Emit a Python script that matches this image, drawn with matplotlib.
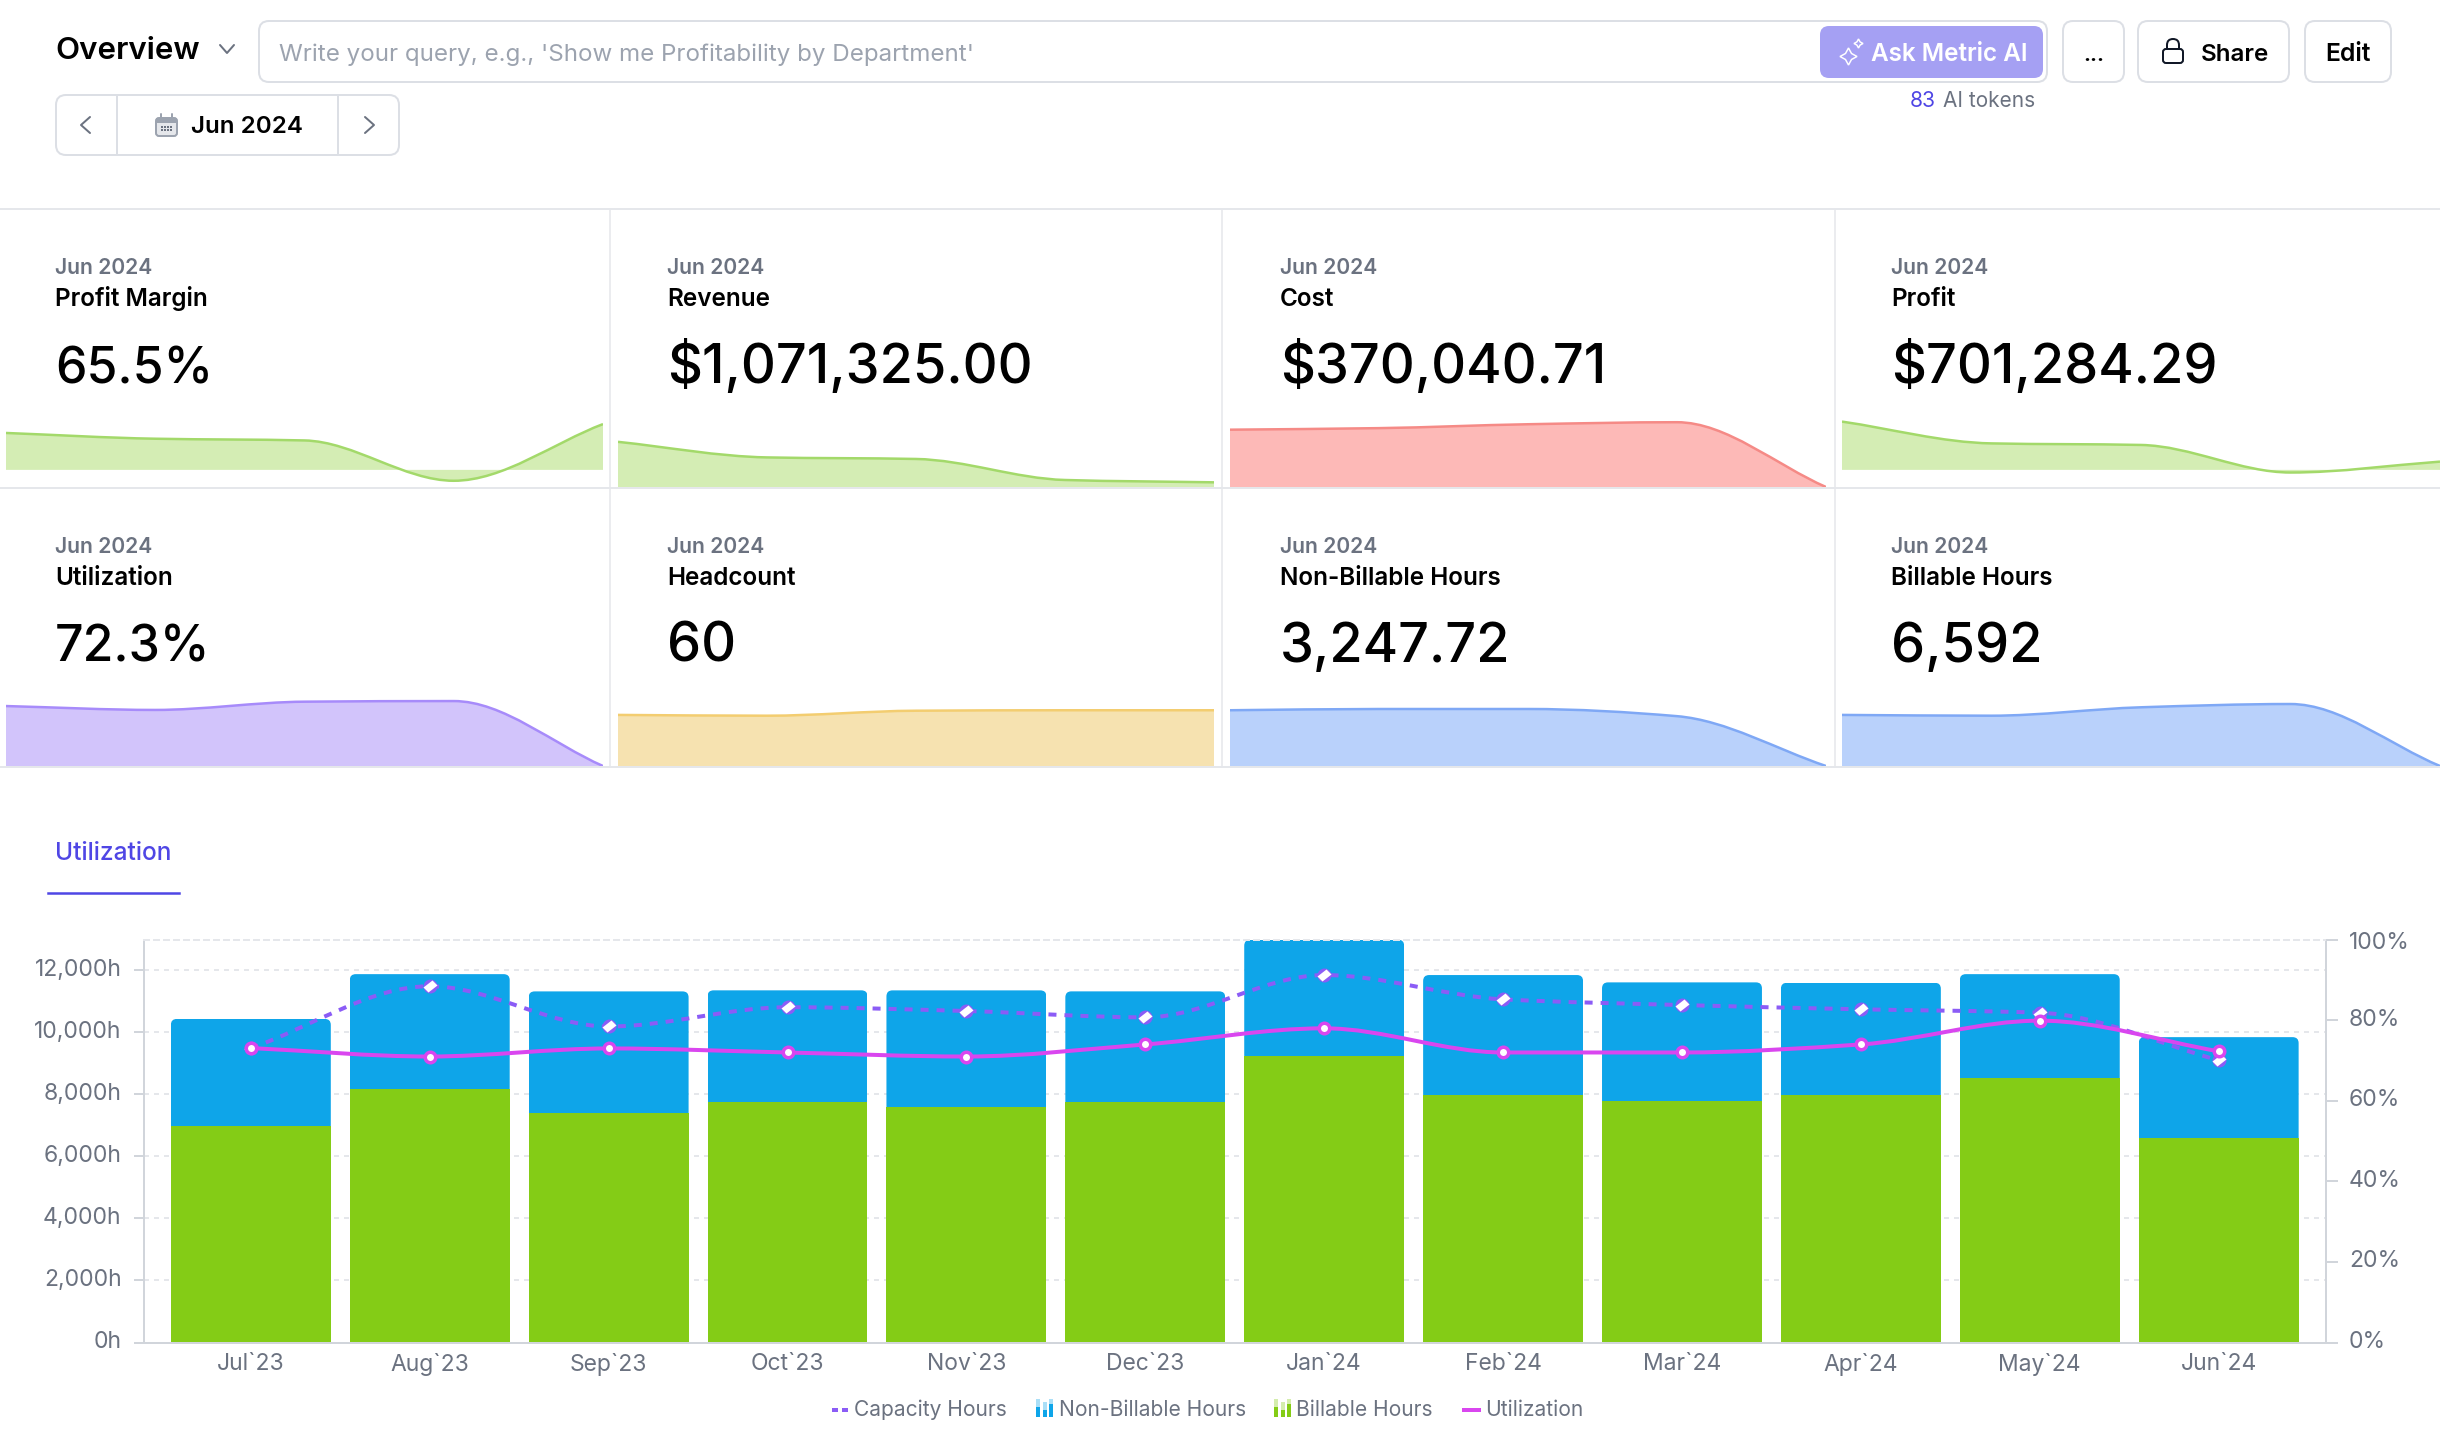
import numpy as np
from matplotlib import pyplot as plt
from matplotlib.markers import MarkerStyle
from matplotlib.patches import FancyBboxPatch, PathPatch, Rectangle
from matplotlib.path import Path
from matplotlib.transforms import Affine2D

plt.rcParams['font.family'] = ['Inter', 'DejaVu Sans']

W, H = 2440, 1440

# main chart data
months = ['Jul`23', 'Aug`23', 'Sep`23', 'Oct`23', 'Nov`23', 'Dec`23',
          'Jan`24', 'Feb`24', 'Mar`24', 'Apr`24', 'May`24', 'Jun`24']
billable = [6966, 8153, 7410, 7743, 7590, 7762, 9222, 7966, 7783, 7964, 8519, 6592]
non_billable = [3461, 3717, 3904, 3605, 3757, 3553, 3757, 3875, 3822, 3628, 3351, 3248]
capacity = [9484, 11481, 10183, 10804, 10682, 10478, 11841, 11058, 10875, 10737, 10627, 9096]
utilization = [73.1, 71.0, 73.0, 72.0, 71.0, 74.0, 78.0, 72.0, 72.0, 74.0, 79.9, 72.3]
hour_ticks = [0, 2000, 4000, 6000, 8000, 10000, 12000]
pct_ticks = [0, 20, 40, 60, 80, 100]

# kpi cards (sparkline heights are relative, the cards have no scale)
card_names = ['Profit Margin', 'Revenue', 'Cost', 'Profit',
              'Utilization', 'Headcount', 'Non-Billable Hours', 'Billable Hours']
card_values = ['65.5%', '$1,071,325.00', '$370,040.71', '$701,284.29',
               '72.3%', '60', '3,247.72', '6,592']
spark_margin = [23.7, 20.0, 18.9, -7.0, 29.4]
spark_revenue = [29.0, 19.0, 18.0, 4.5, 3.0]
spark_cost = [36.8, 37.8, 40.3, 41.6, 0.0]
spark_profit = [31.0, 17.0, 16.0, -1.7, 5.3]
spark_util = [38.5, 36.0, 41.3, 41.7, 0.0]
spark_headcount = [32.8, 32.3, 35.5, 35.8, 35.8]
spark_nonbill = [35.8, 36.6, 36.6, 32.0, 0.0]
spark_bill = [32.8, 32.3, 37.7, 39.8, 0.0]

GREY = '#6b7280'
BORDER = '#dcdfe5'
LINE = '#e5e7eb'
GREEN = '#84cc16'
BLUE = '#0ea5e9'
VIOLET = '#8b5cf6'
FUCHSIA = '#d946ef'
INDIGO = '#4f46e5'


def px(v):
    return v * 72 / 100


def px_axes(x0, y0, x1, y1, **kw):
    return fig.add_axes([x0 / W, 1 - y1 / H, (x1 - x0) / W, (y1 - y0) / H], **kw)


def smooth_path(xs, ys):
    # monotone cubic through the points, written as bezier segments
    xs = np.asarray(xs, dtype=float)
    ys = np.asarray(ys, dtype=float)
    h = np.diff(xs)
    d = np.diff(ys) / h
    m = np.zeros_like(ys)
    m[0], m[-1] = d[0], d[-1]
    for i in range(1, len(ys) - 1):
        if d[i - 1] * d[i] > 0:
            m[i] = 2 * d[i - 1] * d[i] / (d[i - 1] + d[i])
    verts = [(xs[0], ys[0])]
    codes = [Path.MOVETO]
    for i in range(len(h)):
        verts.append((xs[i] + h[i] / 3, ys[i] + m[i] * h[i] / 3))
        verts.append((xs[i + 1] - h[i] / 3, ys[i + 1] - m[i + 1] * h[i] / 3))
        verts.append((xs[i + 1], ys[i + 1]))
        codes += [Path.CURVE4] * 3
    return verts, codes


fig = plt.figure(figsize=(W / 100, H / 100), dpi=100, facecolor='white')

# page chrome, in pixel coordinates
ui = fig.add_axes([0, 0, 1, 1])
ui.set_xlim(0, W)
ui.set_ylim(H, 0)
ui.axis('off')


def box(x0, y0, x1, y1, r=10, fc='white', ec=BORDER, lw=2.0, z=2):
    ui.add_patch(FancyBboxPatch((x0, y0), x1 - x0, y1 - y0,
                                boxstyle=f'round,pad=0,rounding_size={r}',
                                fc=fc, ec=ec, lw=px(lw), zorder=z))


def label(x, y, s, size=16, color='black', weight='normal', ha='left'):
    return ui.text(x, y, s, fontsize=size, color=color, fontweight=weight,
                   ha=ha, va='baseline', zorder=5)


def polyline(xs, ys, color=GREY, lw=2.0):
    ui.plot(xs, ys, color=color, lw=px(lw), solid_capstyle='round', zorder=5)


label(55, 59, 'Overview', 22.5, 'black', 'semibold')
polyline([220, 227, 234], [45, 53, 45], '#6b7280')

box(259, 21, 2047, 82)
label(279, 61, "Write your query, e.g., 'Show me Profitability by Department'", 17.4, '#9ca3af')
box(1821, 27, 2042, 77, r=8, fc='#a5a0f3', ec='#a5a0f3')
ui.plot([1848], [56], marker=(4, 1, 0), ms=px(17), mfc='none', mec='white', mew=px(1.5), zorder=5)
ui.plot([1858], [43], marker=(4, 1, 0), ms=px(9), mfc='none', mec='white', mew=px(1.5), zorder=5)
label(1871, 61, 'Ask Metric AI', 17.5, 'white', 'semibold')

box(2063, 21, 2124, 82)
label(2094, 61, '...', 16, 'black', 'semibold', 'center')
box(2138, 21, 2289, 82)
box(2167, 39, 2179, 58, r=6, ec='#111827', z=3)
box(2163, 49, 2183, 63, r=3, ec='#111827', z=4)
label(2201, 61, 'Share', 17.4, 'black', 'semibold')
box(2305, 21, 2391, 82)
label(2348, 61, 'Edit', 17.8, 'black', 'semibold', 'center')

label(1910, 107, '83', 15.2, INDIGO)
label(1943, 107, 'AI tokens', 15, GREY)

# month picker
box(56, 95, 399, 155)
polyline([117, 117], [96, 154], BORDER)
polyline([338, 338], [96, 154], BORDER)
polyline([90, 81, 90], [117, 125, 133], '#6b7280')
polyline([365, 374, 365], [117, 125, 133], '#6b7280')
box(156, 118, 177, 136, r=3, fc='#e5e7eb', ec='#9ca3af')
ui.add_patch(Rectangle((156, 118), 21, 5, fc='#9ca3af', ec='none', zorder=3))
polyline([161, 161], [114, 118], '#9ca3af')
polyline([172, 172], [114, 118], '#9ca3af')
for col in range(4):
    for row in range(2):
        ui.add_patch(Rectangle((161 + col * 3, 126 + row * 3), 2, 2, fc='#6b7280', ec='none', zorder=4))
label(191, 133, 'Jun 2024', 17.4, 'black', 'semibold')

# card grid
for y in (209, 488, 767):
    ui.plot([0, W], [y, y], color=LINE, lw=px(2), zorder=1)
for x in (610, 1222, 1835):
    ui.plot([x, x], [209, 767], color=LINE, lw=px(1.5), zorder=1)

card_x = [55, 667, 1280, 1891]
for i, (name, value) in enumerate(zip(card_names, card_values)):
    x = card_x[i % 4]
    dy = 279 * (i // 4)
    label(x, 274 + dy, 'Jun 2024', 15.2, GREY, 'semibold')
    label(x, 306 + dy, name, 17.5, 'black', 'semibold')
    size = 36 if value.endswith('%') else 39
    label(x, 383 + dy, value, size, 'black', 'medium')

# sparklines
spark_boxes = [(6, 603), (618, 1214), (1230, 1826), (1842, 2440)]
spark_rows = [
    (spark_margin, 0, 0, '#a3d96a', '#d4edb4', True),
    (spark_revenue, 1, 0, '#a3d96a', '#d4edb4', False),
    (spark_cost, 2, 0, '#f58a86', '#fdb9b7', False),
    (spark_profit, 3, 0, '#a3d96a', '#d4edb4', True),
    (spark_util, 0, 1, '#a78bfa', '#d2c4fb', False),
    (spark_headcount, 1, 1, '#f3cd70', '#f6e2b0', False),
    (spark_nonbill, 2, 1, '#7fa8f5', '#b9d1fb', False),
    (spark_bill, 3, 1, '#7fa8f5', '#b9d1fb', False),
]
for values, col, row, edge, fill, signed in spark_rows:
    x0, x1 = spark_boxes[col]
    bottom = 487 + 279 * row
    sp = px_axes(x0, bottom - 83, x1, bottom)
    sp.axis('off')
    sp.set_xlim(0, 4)
    sp.set_ylim(-11, 42.3) if signed else sp.set_ylim(0, 53.3)
    xs = np.arange(len(values))
    verts, codes = smooth_path(xs, values)
    area = Path(verts + [(xs[-1], 0), (xs[0], 0), (xs[0], 0)],
                codes + [Path.LINETO, Path.LINETO, Path.CLOSEPOLY])
    sp.add_patch(PathPatch(area, fc=fill, ec='none'))
    sp.add_patch(PathPatch(Path(verts, codes), fc='none', ec=edge, lw=px(2.5)))

# tab
label(55, 860, 'Utilization', 17.6, INDIGO, 'medium')
ui.plot([48, 179], [893, 893], color=INDIGO, lw=px(2.5), zorder=5)

# main chart
ax = px_axes(143.5, 939.7, 2326, 1342.5)
ax.set_xlim(-0.6, 11.6)
ax.set_ylim(0, 12980)
ax.set_facecolor('none')
x = np.arange(len(months))
bar_w = 0.894

ax.set_axisbelow(True)
ax.yaxis.grid(True, color=LINE, lw=px(2), linestyle=(0, (2.5, 2.5)))
ax.xaxis.grid(False)
ax.set_yticks(hour_ticks)
ax.set_yticklabels([f'{v:,}h' for v in hour_ticks], va='center_baseline')
ax.set_xticks(x)
ax.set_xticklabels(months)
ax.tick_params(axis='y', length=px(10), width=px(2), color='#d1d5db', labelcolor=GREY, labelsize=16.5, pad=px(12))
ax.tick_params(axis='x', length=0, labelcolor=GREY, labelsize=16.5, pad=px(10.5))
for side in ('left', 'right', 'bottom'):
    ax.spines[side].set_color('#d1d5db')
    ax.spines[side].set_linewidth(px(2))
ax.spines['top'].set_color(LINE)
ax.spines['top'].set_linewidth(px(2))
ax.spines['top'].set_linestyle((0, (2.5, 2.5)))
for t in ax.get_yticklabels():
    t.set_transform(t.get_transform() + Affine2D().translate(0, 3))

ax.bar(x, billable, bar_w, color=GREEN, zorder=2)
top_bars = ax.bar(x, non_billable, bar_w, bottom=billable, color=BLUE, zorder=2)

# round the top corners only, by clipping the upper bars
x_unit = (2326 - 143.5) / 12.2
y_unit = (1342.5 - 939.7) / 12980
r_px = 6
for bar, base, top in zip(top_bars, billable, non_billable):
    clip = FancyBboxPatch((bar.get_x(), 0), bar.get_width(), base + top,
                          boxstyle=f'round,pad=0,rounding_size={r_px / x_unit}',
                          mutation_aspect=x_unit / y_unit,
                          transform=ax.transData)
    bar.set_clip_path(clip)

verts, codes = smooth_path(x, capacity)
ax.add_patch(PathPatch(Path(verts, codes), fc='none', ec=VIOLET, lw=px(4),
                       linestyle=(0, (2, 2)), zorder=3))
ax.plot(x, capacity, ls='none', marker='o', ms=px(14), mfc=VIOLET, mec='none', zorder=4)
lozenge = MarkerStyle('s', transform=Affine2D().scale(1, 0.7).rotate_deg(40))
ax.plot(x, capacity, ls='none', marker=lozenge, ms=px(11), mfc='white', mec='none', zorder=5)

ax2 = ax.twinx()
ax2.set_ylim(0, 100)
ax2.set_yticks(pct_ticks)
ax2.set_yticklabels([f'{v}%' for v in pct_ticks], va='center_baseline')
ax2.tick_params(axis='y', length=px(12), width=px(2), color='#d1d5db', labelcolor=GREY, labelsize=16.5, pad=px(11))
for side in ax2.spines:
    ax2.spines[side].set_visible(False)
for t, v in zip(ax2.get_yticklabels(), pct_ticks):
    t.set_transform(t.get_transform() + Affine2D().translate(0, -1 if v == 100 else 3))
verts, codes = smooth_path(x, utilization)
ax2.add_patch(PathPatch(Path(verts, codes), fc='none', ec=FUCHSIA, lw=px(4), zorder=3))
ax2.plot(x, utilization, ls='none', marker='o', ms=px(10.5), mfc='white', mec=FUCHSIA, mew=px(3.5), zorder=4)

# legend row
for x0, x1 in ((832, 838), (842, 848)):
    ui.plot([x0, x1], [1410, 1410], color=VIOLET, lw=px(4), solid_capstyle='butt', zorder=5)
label(854, 1416, 'Capacity Hours', 15.1, GREY)


def bars_icon(x0, color):
    for dx, top_y in ((0, 1399), (6.5, 1402), (13, 1399)):
        ui.add_patch(Rectangle((x0 + dx, top_y), 4, 1417 - top_y, fc=color, ec='none', alpha=0.35, zorder=5))
    for dx, top_y in ((0, 1407), (6.5, 1410), (13, 1404)):
        ui.add_patch(Rectangle((x0 + dx, top_y), 4, 1417 - top_y, fc=color, ec='none', zorder=5))


bars_icon(1036, BLUE)
label(1059, 1416, 'Non-Billable Hours', 15.1, GREY)
bars_icon(1274, GREEN)
label(1296, 1416, 'Billable Hours', 15.1, GREY)
ui.plot([1462, 1481], [1410, 1410], color=FUCHSIA, lw=px(4), solid_capstyle='butt', zorder=5)
label(1485, 1416, 'Utilization', 15.1, GREY)

fig.savefig('out.png', dpi=100)
